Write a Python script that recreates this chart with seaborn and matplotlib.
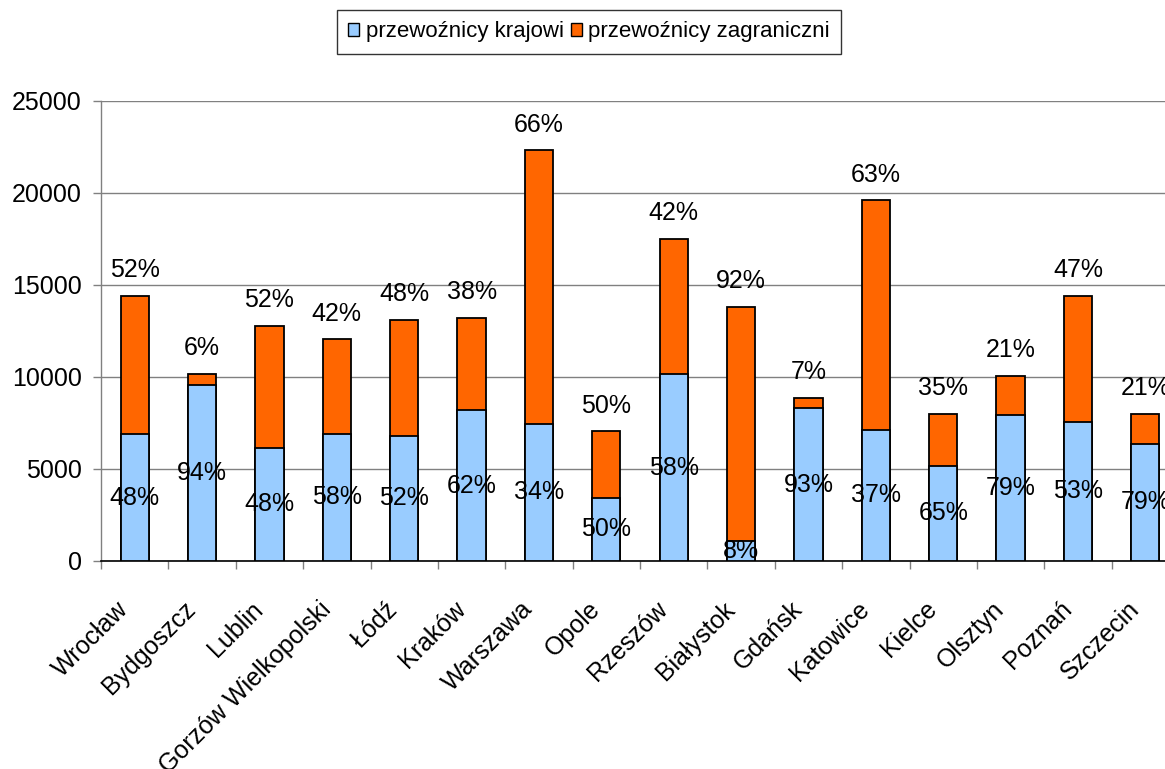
import seaborn as sns
import matplotlib.pyplot as plt
import matplotlib.transforms as mtrans
import matplotlib.font_manager as fm
import pandas as pd
from matplotlib.patches import Patch
from matplotlib.ticker import MultipleLocator

sns.set_style("white")
plt.rcParams["font.family"] = ["Liberation Sans", "DejaVu Sans"]
plt.rcParams["text.color"] = "black"
plt.rcParams["xtick.color"] = "black"
plt.rcParams["ytick.color"] = "black"

# dane z wykresu
miasta = ["Wrocław", "Bydgoszcz", "Lublin", "Gorzów Wielkopolski", "Łódź", "Kraków",
          "Warszawa", "Opole", "Rzeszów", "Białystok", "Gdańsk", "Katowice",
          "Kielce", "Olsztyn", "Poznań", "Szczecin"]
krajowi = [6900, 9550, 6150, 6910, 6820, 8180, 7460, 3450, 10150, 1090,
           8310, 7130, 5180, 7910, 7580, 6370]
zagraniczni = [7500, 600, 6620, 5130, 6270, 5040, 14850, 3590, 7360, 12730,
               550, 12470, 2820, 2150, 6820, 1630]
proc_krajowi = ["48%", "94%", "48%", "58%", "52%", "62%", "34%", "50%",
                "58%", "8%", "93%", "37%", "65%", "79%", "53%", "79%"]
proc_zagraniczni = ["52%", "6%", "52%", "42%", "48%", "38%", "66%", "50%",
                    "42%", "92%", "7%", "63%", "35%", "21%", "47%", "21%"]

df = pd.DataFrame({"miasto": miasta, "krajowi": krajowi, "zagraniczni": zagraniczni})
df["razem"] = df["krajowi"] + df["zagraniczni"]

NIEB = "#99CCFF"
POM = "#FF6600"

fig = plt.figure(figsize=(11.65, 7.69), dpi=100)
ax = fig.add_axes([101/1165, 1 - 561/769, 1078/1165, 460/769])

sns.barplot(data=df, x="miasto", y="razem", color=POM, width=0.42,
            edgecolor="black", linewidth=1.3, saturation=1, ax=ax, zorder=3)
sns.barplot(data=df, x="miasto", y="krajowi", color=NIEB, width=0.42,
            edgecolor="black", linewidth=1.3, saturation=1, ax=ax, zorder=3)

# etykiety procentowe
for i in range(len(miasta)):
    ax.text(i, df["krajowi"][i] / 2, proc_krajowi[i], ha="center", va="center",
            fontsize=18, color="black", zorder=5)
    ax.text(i, df["razem"][i] + 1400, proc_zagraniczni[i], ha="center", va="center",
            fontsize=18, color="black", zorder=5)

ax.set_ylim(0, 25000)
ax.set_xlim(-0.5, len(miasta) - 0.5)
ax.yaxis.set_major_locator(MultipleLocator(5000))
ax.yaxis.grid(True, color="#808080", linewidth=1.0, zorder=0)
ax.set_axisbelow(True)
ax.set_xlabel("")
ax.set_ylabel("")

for s in ["top", "right"]:
    ax.spines[s].set_visible(False)
ax.spines["left"].set_color("#808080")
ax.spines["bottom"].set_color("black")
ax.spines["left"].set_linewidth(1.0)
ax.spines["bottom"].set_linewidth(1.2)

ax.tick_params(axis="y", which="major", direction="out", length=6, width=1,
               color="#808080", labelcolor="black", labelsize=18, pad=8, left=True)
ax.set_xticks(range(len(miasta)))
ax.set_xticks([i - 0.5 for i in range(len(miasta) + 1)], minor=True)
ax.tick_params(axis="x", which="major", length=0, labelsize=18, pad=32,
               labelcolor="black")
ax.tick_params(axis="x", which="minor", direction="out", length=6, width=1,
               color="#808080", bottom=True)
przesun = mtrans.ScaledTranslation(-10/100, 0, fig.dpi_scale_trans)
for lab in ax.get_xticklabels():
    lab.set_rotation(45)
    lab.set_ha("right")
    lab.set_va("center")
    lab.set_rotation_mode("anchor")
    lab.set_transform(lab.get_transform() + przesun)

# legenda - waska czcionka jesli jest
nazwy = {f.name for f in fm.fontManager.ttflist}
if "Liberation Sans Narrow" in nazwy:
    leg_font = {"family": ["Liberation Sans Narrow", "Liberation Sans"], "size": 19}
else:
    leg_font = {"family": ["Liberation Sans"], "size": 16}

uchwyty = [Patch(facecolor=NIEB, edgecolor="black", label="przewoźnicy krajowi"),
           Patch(facecolor=POM, edgecolor="black", label="przewoźnicy zagraniczni")]
leg = fig.legend(handles=uchwyty, loc="center", bbox_to_anchor=(589/1165, 1 - 32/769),
                 ncol=2, frameon=True, fancybox=False, prop=leg_font,
                 handlelength=0.5, handleheight=0.5, handletextpad=0.3,
                 columnspacing=0.3, borderpad=0.5, borderaxespad=0)
leg.get_frame().set_edgecolor("black")
leg.get_frame().set_linewidth(1.0)

plt.savefig("out.png", dpi=100)
